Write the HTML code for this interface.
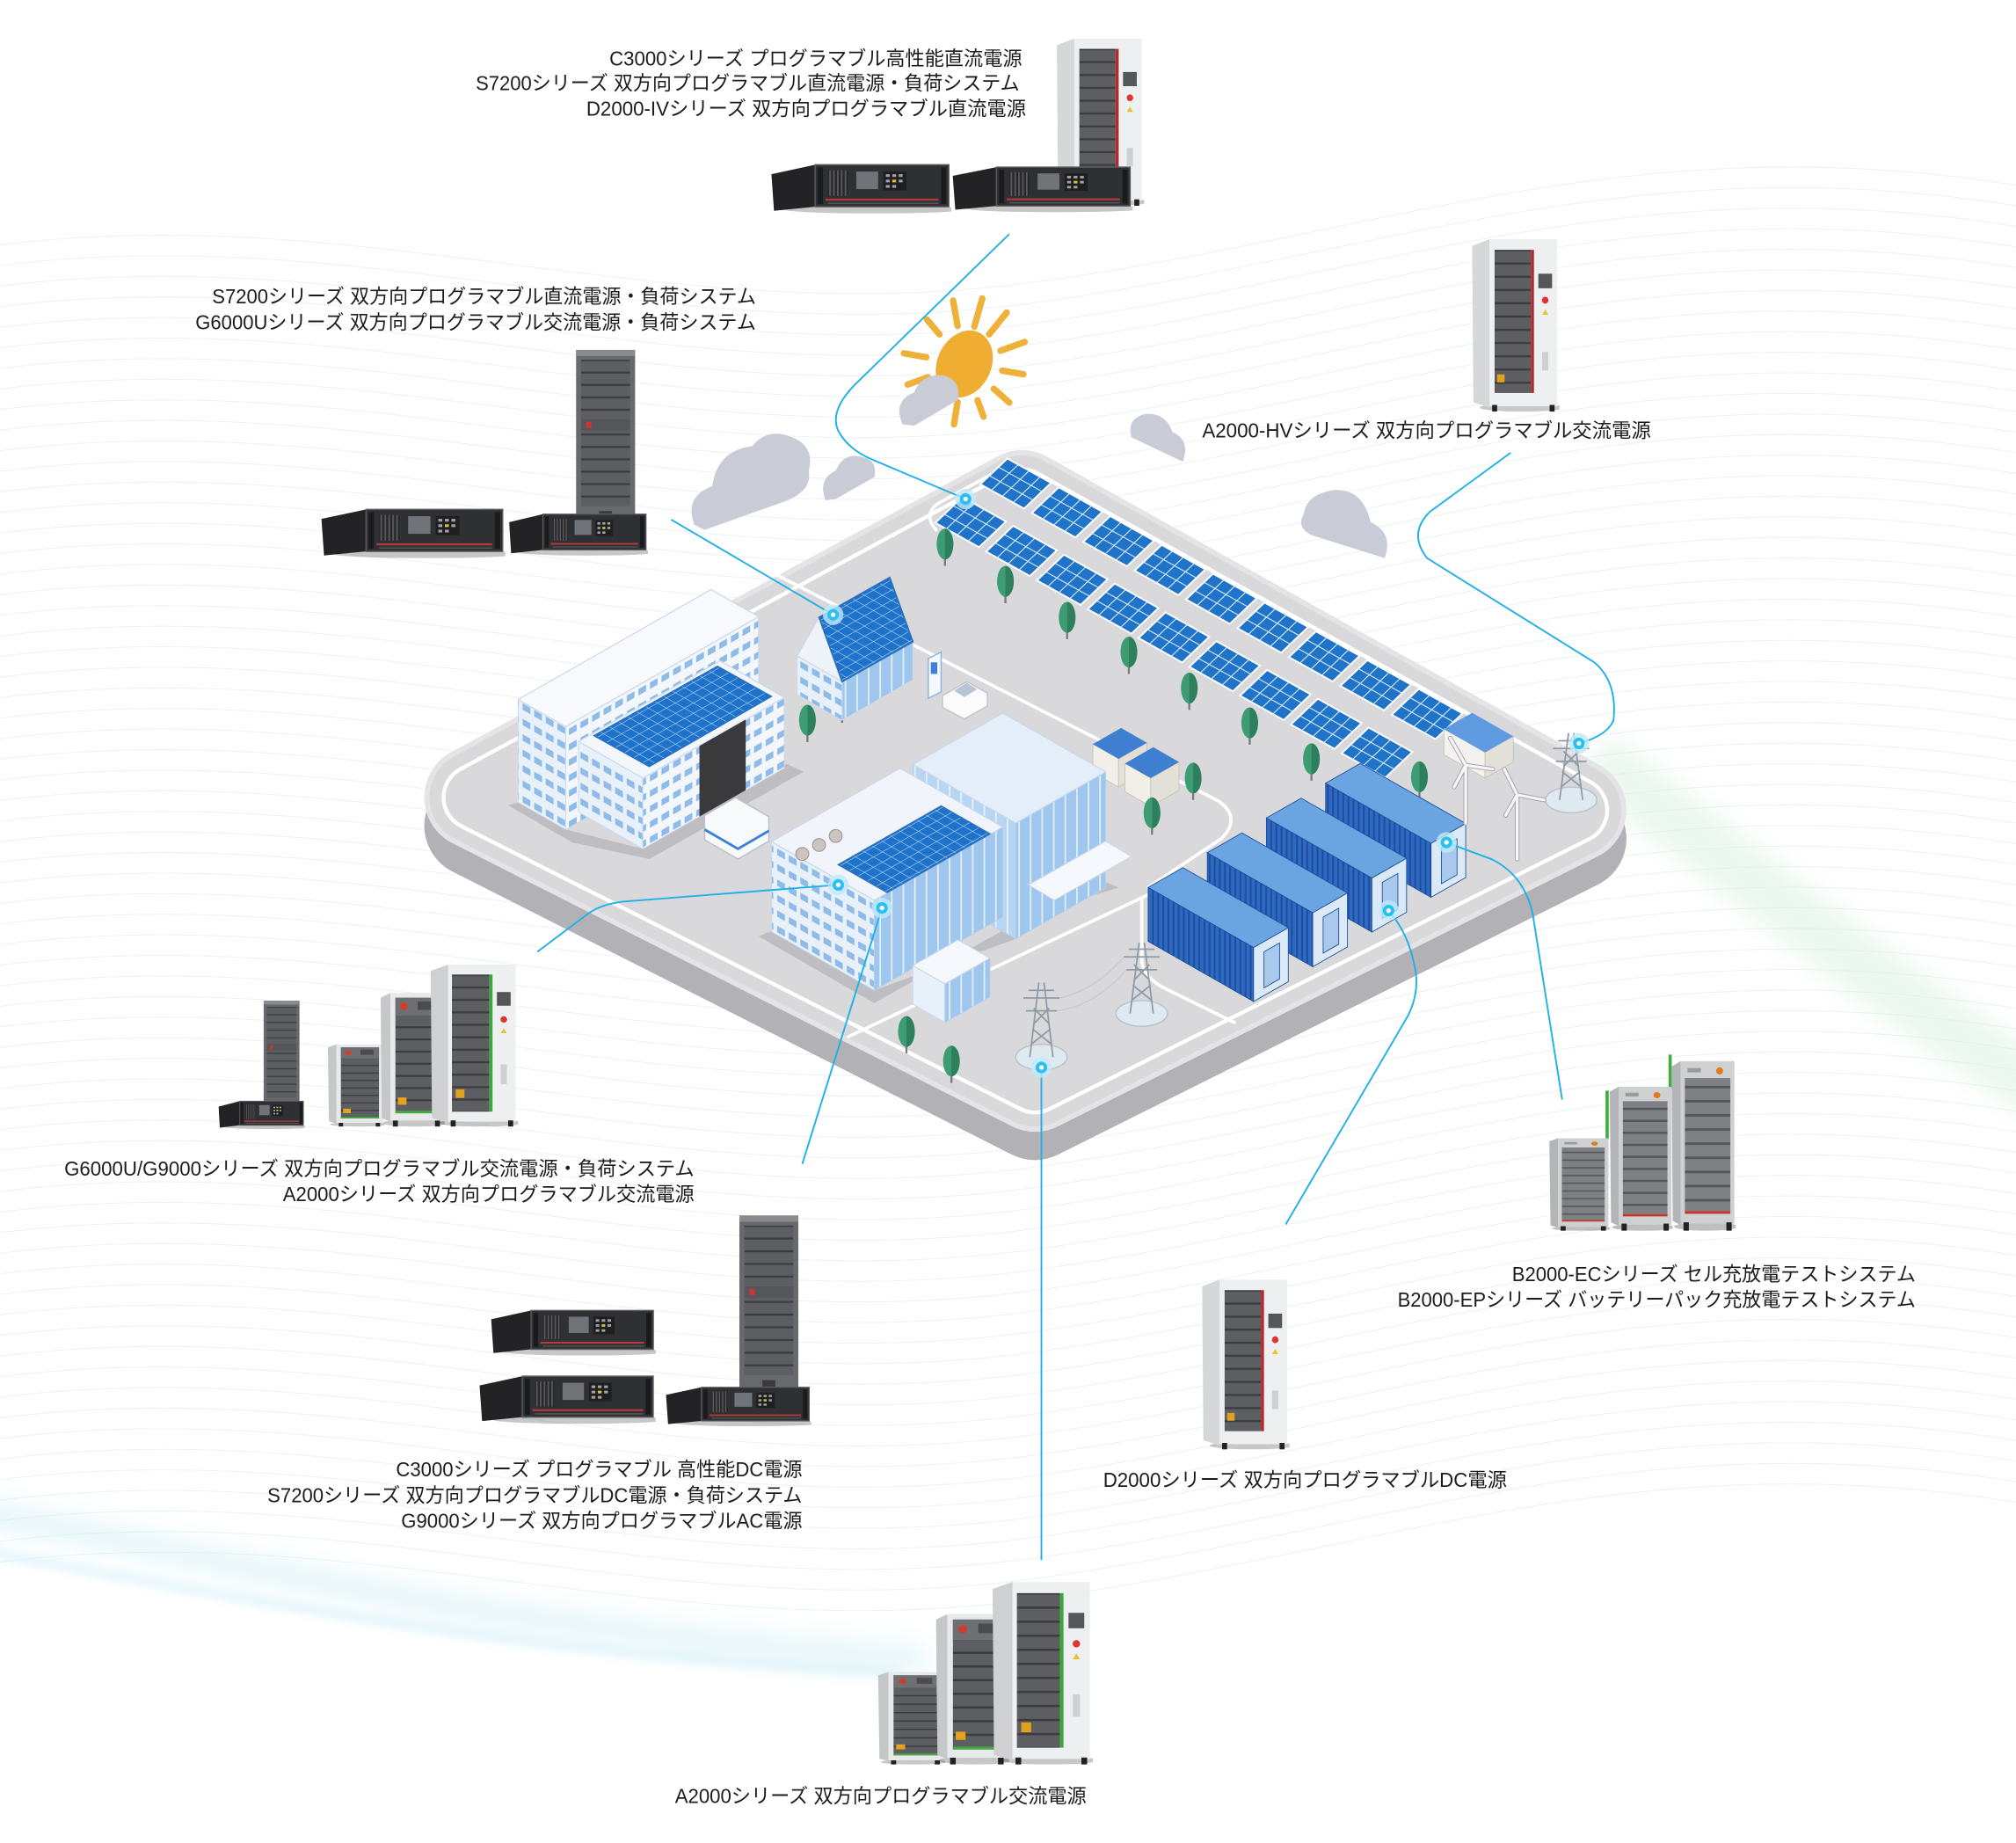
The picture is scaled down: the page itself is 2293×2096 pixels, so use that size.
<!DOCTYPE html>
<html><head><meta charset="utf-8">
<style>
html,body{margin:0;padding:0;background:#ffffff;width:2293px;height:2096px;overflow:hidden}
svg{display:block}
text{font-size:15.5px;fill:#1c1c1c}
</style></head>
<body>
<svg xmlns="http://www.w3.org/2000/svg" width="2293" height="2096" viewBox="0 0 1568 1433" preserveAspectRatio="none" font-family="'Liberation Sans','Noto Sans CJK JP',sans-serif">
<defs>
  <filter id="blur3" x="-50%" y="-50%" width="200%" height="200%"><feGaussianBlur stdDeviation="3"/></filter>
  <filter id="blur10" x="-50%" y="-50%" width="200%" height="200%"><feGaussianBlur stdDeviation="10"/></filter>
  <pattern id="slots" width="8" height="10" patternUnits="userSpaceOnUse"><rect width="8" height="10" fill="#5d5e61"/><rect y="7.5" width="8" height="1.6" fill="#3b3c3f"/></pattern>
  <pattern id="slotsL" width="8" height="10" patternUnits="userSpaceOnUse"><rect width="8" height="10" fill="#7f8084"/><rect y="7.5" width="8" height="1.8" fill="#55565a"/></pattern>
  <pattern id="vent" width="3" height="3" patternUnits="userSpaceOnUse"><rect width="3" height="3" fill="#28282a"/><rect width="1.2" height="3" fill="#5b5b5e"/></pattern>
  <pattern id="iso" width="7" height="7" patternUnits="userSpaceOnUse" patternTransform="matrix(1,-0.57,1,0.57,0,0)"><rect width="7" height="7" fill="#1f72c9"/><path d="M0 0H7M0 0V7" stroke="#bfe0fb" stroke-width="0.7"/></pattern>
  <pattern id="cvent" width="4" height="4" patternUnits="userSpaceOnUse" patternTransform="skewY(29.7)"><rect width="4" height="4" fill="#2f6ac2"/><rect width="1.5" height="4" fill="#1f4f9e"/></pattern>
  <pattern id="glassA" width="9" height="10" patternUnits="userSpaceOnUse" patternTransform="skewY(-29.7)"><rect width="9" height="10" fill="#9fc7ee"/><rect width="1.2" height="10" fill="#e2effb"/></pattern>
  <pattern id="glassB" width="9" height="10" patternUnits="userSpaceOnUse" patternTransform="skewY(29.7)"><rect width="9" height="10" fill="#b7d6f3"/><rect width="1.2" height="10" fill="#eaf3fc"/></pattern>
  <pattern id="winA" width="9" height="12" patternUnits="userSpaceOnUse" patternTransform="skewY(-29.7)"><rect width="9" height="12" fill="#f3f7fc"/><rect x="1.5" y="3" width="6" height="5" fill="#8fbbe8"/></pattern>
  <pattern id="winB" width="9" height="12" patternUnits="userSpaceOnUse" patternTransform="skewY(29.7)"><rect width="9" height="12" fill="#e8f0f9"/><rect x="1.5" y="3" width="6" height="5" fill="#8fbbe8"/></pattern>
  <path id="wv" d="M -60 0 C 250 -60, 500 60, 800 20 S 1300 -120, 1650 -40" fill="none" stroke="#cfe3e6" stroke-width="0.7"/>

  <g id="pnl">
    <polygon points="-27.5,0.5 -6.5,-19.5 27.5,-0.5 6.5,19.5" fill="#1f73c8" stroke="#ffffff" stroke-width="1.3"/>
    <path d="M-20.5,-6.17 L13.5,12.83 M-13.5,-12.83 L20.5,6.17 M-19,5.25 L2,-14.75 M-10.5,10 L10.5,-10 M-2,14.75 L19,-5.25" stroke="#cfe6fb" stroke-width="0.8" fill="none"/>
  </g>
  <g id="tree">
    <line x1="0" y1="6" x2="0" y2="17" stroke="#7a7a7a" stroke-width="1.6"/>
    <ellipse cx="0" cy="0" rx="6.5" ry="12" fill="#3d9c73"/>
    <path d="M0 -12 A6.5 12 0 0 1 0 12 Z" fill="#2e7f5c"/>
  </g>
  <g id="node">
    <circle r="8" fill="#bfeaf9" opacity="0.8"/>
    <circle r="4.5" fill="#2cc0f0"/>
    <circle r="1.8" fill="#ffffff"/>
  </g>

  <symbol id="rack" viewBox="0 0 140 38" preserveAspectRatio="none">
    <ellipse cx="80" cy="35" rx="70" ry="3" fill="#000" opacity=".22"/>
    <polygon points="0,9 34,2 34,33 2,36" fill="#232325"/>
    <rect x="34" y="2" width="104" height="31" fill="#2f3033" stroke="#5a5b5e" stroke-width="1"/>
    <rect x="36" y="4" width="4" height="27" fill="#1b1b1d"/>
    <rect x="132" y="4" width="4" height="27" fill="#1b1b1d"/>
    <rect x="44" y="6" width="16" height="19" fill="url(#vent)"/>
    <rect x="66" y="7" width="17" height="13" fill="#707377"/>
    <rect x="87" y="7" width="18" height="14" fill="#1f1f21"/>
    <g fill="#a3a3a3"><rect x="89" y="9" width="3" height="2"/><rect x="94" y="9" width="3" height="2"/><rect x="99" y="9" width="3" height="2"/><rect x="89" y="13" width="3" height="2"/><rect x="94" y="13" width="3" height="2" fill="#d8c030"/><rect x="99" y="13" width="3" height="2"/><rect x="89" y="17" width="3" height="2"/><rect x="94" y="17" width="3" height="2"/></g>
    <rect x="42" y="27" width="88" height="1.5" fill="#b23a3a"/>
    <rect x="44" y="30" width="86" height="1" fill="#555"/>
  </symbol>

  <symbol id="cabR" viewBox="0 0 70 130" preserveAspectRatio="none">
    <ellipse cx="40" cy="127" rx="34" ry="3" fill="#000" opacity=".22"/>
    <polygon points="0,5 14,0 14,127 1,123" fill="#d6d7d9"/>
    <rect x="14" y="0" width="54" height="126" fill="#eeeff0"/>
    <rect x="18" y="8" width="29" height="108" fill="url(#slots)"/>
    <rect x="47" y="8" width="2.5" height="108" fill="#b12a2e"/>
    <rect x="53" y="26" width="11" height="11" fill="#55565a"/>
    <circle cx="58.5" cy="46" r="2.6" fill="#d33"/>
    <polygon points="58.5,53 56,57 61,57" fill="#e8c230"/>
    <rect x="20" y="102" width="6" height="6" fill="#e0a020"/>
    <rect x="56" y="85" width="5" height="14" fill="#cfd0d2"/>
    <rect x="16" y="125" width="4" height="5" fill="#222"/><rect x="62" y="125" width="4" height="5" fill="#222"/>
  </symbol>

  <symbol id="cabG" viewBox="0 0 70 130" preserveAspectRatio="none">
    <ellipse cx="40" cy="127" rx="34" ry="3" fill="#000" opacity=".22"/>
    <polygon points="0,5 14,0 14,127 1,123" fill="#cfd0d2"/>
    <rect x="14" y="0" width="54" height="126" fill="#eeeff0"/>
    <rect x="17" y="8" width="30" height="110" fill="url(#slots)"/>
    <rect x="47" y="8" width="2.5" height="110" fill="#3fa63a"/>
    <rect x="53" y="22" width="11" height="11" fill="#55565a"/>
    <circle cx="58.5" cy="44" r="2.6" fill="#d33"/>
    <polygon points="58.5,51 56,55 61,55" fill="#e8c230"/>
    <rect x="20" y="100" width="7" height="7" fill="#e0a020"/>
    <rect x="56" y="80" width="5" height="16" fill="#cfd0d2"/>
    <rect x="16" y="125" width="4" height="5" fill="#222"/><rect x="62" y="125" width="4" height="5" fill="#222"/>
  </symbol>

  <symbol id="twr" viewBox="0 0 46 140" preserveAspectRatio="none">
    <rect x="0" y="0" width="46" height="140" fill="#68696c"/>
    <rect x="0" y="0" width="46" height="5" fill="#8a8b8e"/>
    <rect x="4" y="8" width="38" height="118" fill="url(#slots)"/>
    <rect x="4" y="56" width="38" height="9" fill="#55565a"/>
    <rect x="8" y="58" width="4" height="5" fill="#c33"/>
    <rect x="18" y="130" width="10" height="5" fill="#3a3a3c"/>
  </symbol>

  <symbol id="cabB" viewBox="0 0 48 120" preserveAspectRatio="none">
    <ellipse cx="26" cy="117" rx="24" ry="3" fill="#000" opacity=".25"/>
    <polygon points="0,4 7,0 7,116 1,113" fill="#b4b5b8"/>
    <rect x="7" y="0" width="40" height="115" fill="#cfd0d2"/>
    <rect x="10" y="12" width="34" height="94" fill="url(#slotsL)"/>
    <circle cx="36" cy="7" r="2.6" fill="#e07a1a"/>
    <rect x="12" y="5" width="10" height="3" fill="#9a9a9a"/>
    <rect x="10" y="106" width="34" height="2" fill="#c0392b"/>
    <rect x="9" y="114" width="4" height="6" fill="#222"/><rect x="41" y="114" width="4" height="6" fill="#222"/>
  </symbol>

  <symbol id="cabS" viewBox="0 0 52 110" preserveAspectRatio="none">
    <ellipse cx="28" cy="107" rx="26" ry="3" fill="#000" opacity=".22"/>
    <polygon points="0,4 8,0 8,106 1,103" fill="#c6c7c9"/>
    <rect x="8" y="0" width="43" height="105" fill="#e8e9ea"/>
    <rect x="12" y="4" width="35" height="95" fill="url(#slots)"/>
    <rect x="12" y="4" width="35" height="15" fill="#6e6f72"/>
    <circle cx="19" cy="11" r="3" fill="#d63a2a"/>
    <rect x="30" y="7" width="12" height="7" fill="#4a4b4e"/>
    <rect x="12" y="97" width="35" height="2" fill="#3fae3a"/>
    <rect x="14" y="86" width="7" height="6" fill="#e6a21f"/>
    <rect x="10" y="105" width="4" height="5" fill="#222"/><rect x="44" y="105" width="4" height="5" fill="#222"/>
  </symbol>
</defs>

<!-- background texture -->
<rect width="1568" height="1433" fill="#ffffff"/>
<g opacity="0.4">
  <use href="#wv" y="200"/><use href="#wv" y="216"/><use href="#wv" y="232"/><use href="#wv" y="248"/><use href="#wv" y="264"/><use href="#wv" y="280"/><use href="#wv" y="296"/><use href="#wv" y="312"/><use href="#wv" y="328"/><use href="#wv" y="344"/><use href="#wv" y="360"/><use href="#wv" y="376"/><use href="#wv" y="392"/><use href="#wv" y="408"/><use href="#wv" y="424"/><use href="#wv" y="440"/><use href="#wv" y="456"/><use href="#wv" y="472"/><use href="#wv" y="488"/><use href="#wv" y="504"/><use href="#wv" y="520"/><use href="#wv" y="536"/><use href="#wv" y="552"/><use href="#wv" y="568"/><use href="#wv" y="584"/><use href="#wv" y="600"/><use href="#wv" y="616"/><use href="#wv" y="632"/><use href="#wv" y="648"/><use href="#wv" y="664"/><use href="#wv" y="680"/><use href="#wv" y="696"/><use href="#wv" y="712"/><use href="#wv" y="728"/><use href="#wv" y="744"/><use href="#wv" y="760"/><use href="#wv" y="776"/><use href="#wv" y="792"/><use href="#wv" y="808"/><use href="#wv" y="824"/><use href="#wv" y="840"/><use href="#wv" y="856"/><use href="#wv" y="872"/><use href="#wv" y="888"/><use href="#wv" y="904"/><use href="#wv" y="920"/><use href="#wv" y="936"/><use href="#wv" y="952"/><use href="#wv" y="968"/><use href="#wv" y="984"/><use href="#wv" y="1000"/><use href="#wv" y="1016"/><use href="#wv" y="1032"/><use href="#wv" y="1048"/><use href="#wv" y="1064"/><use href="#wv" y="1080"/><use href="#wv" y="1096"/><use href="#wv" y="1112"/><use href="#wv" y="1128"/><use href="#wv" y="1144"/><use href="#wv" y="1160"/><use href="#wv" y="1176"/><use href="#wv" y="1192"/><use href="#wv" y="1208"/><use href="#wv" y="1224"/>
</g>
<path d="M -20 1175 C 150 1205, 360 1268, 720 1290" fill="none" stroke="#bfe8f3" stroke-width="16" opacity="0.5" filter="url(#blur10)"/>
<path d="M -20 1205 C 180 1240, 380 1285, 700 1300" fill="none" stroke="#d3f0f7" stroke-width="10" opacity="0.45" filter="url(#blur3)"/>
<path d="M 1240 590 C 1350 670, 1450 760, 1590 850" fill="none" stroke="#d4efdc" stroke-width="46" opacity="0.45" filter="url(#blur10)"/>

<!-- platform -->
<polygon points="370,642 795,412 1225,652 805,862" fill="#b2b2b6" stroke="#b2b2b6" stroke-width="80" stroke-linejoin="round"/>
<polygon points="370,620 795,390 1225,630 805,840" fill="#e4e4e6" stroke="#e4e4e6" stroke-width="80" stroke-linejoin="round"/>
<polygon points="370,620 795,390 1225,630 805,840" fill="#d9d9dc" stroke="#d9d9dc" stroke-width="72" stroke-linejoin="round"/>
<polygon points="370,620 795,390 1225,630 805,840" fill="none" stroke="#ffffff" stroke-width="53" stroke-linejoin="round"/>
<polygon points="370,620 795,390 1225,630 805,840" fill="#d9d9dc" stroke="#d9d9dc" stroke-width="47" stroke-linejoin="round"/>
<!-- roads -->
<g fill="none" stroke="#ffffff" stroke-width="2.5" stroke-linecap="round">
  <path d="M600 445 L948 623 Q966 636 950 652 L893 690"/>
  <path d="M728 412 Q716 398 734 389 L782 363"/>
  <path d="M660 806 L905 690"/>
  <path d="M888 700 L888 748 Q890 760 905 768 L960 795"/>
</g>

<!-- solar rows -->
<g>
  <use href="#pnl" x="790" y="376"/><use href="#pnl" x="830" y="398.4"/><use href="#pnl" x="870" y="420.8"/><use href="#pnl" x="910" y="443.2"/><use href="#pnl" x="950" y="465.6"/><use href="#pnl" x="990" y="488"/><use href="#pnl" x="1030" y="510.4"/><use href="#pnl" x="1070" y="532.8"/><use href="#pnl" x="1110" y="555.2"/>
  <use href="#pnl" x="755" y="406"/><use href="#pnl" x="794.5" y="428.4"/><use href="#pnl" x="834" y="450.8"/><use href="#pnl" x="873.5" y="473.2"/><use href="#pnl" x="913" y="495.6"/><use href="#pnl" x="952.5" y="518"/><use href="#pnl" x="992" y="540.4"/><use href="#pnl" x="1031.5" y="562.8"/><use href="#pnl" x="1071" y="585.2"/>
</g>

<!-- trees -->
<use href="#tree" x="735" y="423"/><use href="#tree" x="782" y="452"/><use href="#tree" x="830" y="480"/><use href="#tree" x="878" y="507"/><use href="#tree" x="925" y="535"/><use href="#tree" x="972" y="562"/><use href="#tree" x="1020" y="590"/><use href="#tree" x="1104" y="604"/><use href="#tree" x="628" y="560"/><use href="#tree" x="655" y="545"/>

<!-- house -->
<polygon points="655,530 620,510 620,540 655,560" fill="url(#winB)" stroke="#c9d8ea" stroke-width="0.6"/>
<polygon points="655,530 710,498.6 710,528.6 655,560" fill="url(#glassA)" stroke="#c9d8ea" stroke-width="0.6"/>
<polygon points="620,510 655,530 637,480" fill="#eef3fa" stroke="#c9d8ea" stroke-width="0.8"/>
<polygon points="637,480 692,449 710,499 655,530" fill="url(#iso)" stroke="#2a6fc0" stroke-width="1.2"/>
<!-- charging station & car -->
<polygon points="722,512 732,507 732,538 722,543" fill="#f4f7fb" stroke="#8fb4de" stroke-width="1"/>
<rect x="724" y="515" width="5" height="9" fill="#3b82d6"/>
<path d="M733 541 L752 530 L768 539 L768 549 L750 559 L733 550 Z" fill="#fbfbfb" stroke="#c2c4c8"/>
<path d="M742 537 L752 531 L760 536 L750 542 Z" fill="#b7c6d6"/>

<!-- transformers -->
<polygon points="870,590 850,578.6 850,600.6 870,612" fill="#f1efe8" stroke="#c8c4b8" stroke-width="0.6"/>
<polygon points="870,590 892,577.5 892,599.5 870,612" fill="#e3e0d7" stroke="#c8c4b8" stroke-width="0.6"/>
<polygon points="870,590 892,577.5 872,566 850,578.6" fill="#3f7fd1"/>
<polygon points="895,605 875,593.6 875,615.6 895,627" fill="#f1efe8" stroke="#c8c4b8" stroke-width="0.6"/>
<polygon points="895,605 917,592.5 917,614.5 895,627" fill="#e3e0d7" stroke="#c8c4b8" stroke-width="0.6"/>
<polygon points="895,605 917,592.5 897,581 875,593.6" fill="#3f7fd1"/>
<use href="#tree" x="928" y="605"/><use href="#tree" x="896" y="632"/>

<!-- big left building -->
<polygon points="395,626 445,655 505,668 625,600 612,594 500,660 440,645 403,624" fill="#bdbdc2"/>
<polygon points="440,565 403,543.9 403,623.9 440,645" fill="url(#winB)" stroke="#c9d8ea" stroke-width="0.6"/>
<polygon points="440,565 590,479.5 590,559.5 440,645" fill="url(#winA)" stroke="#c9d8ea" stroke-width="0.6"/>
<polygon points="440,565 590,479.5 553,458.4 403,543.9" fill="#f7f9fc" stroke="#c9d8ea" stroke-width="0.8"/>
<polygon points="500,605 450,576.5 450,631.5 500,660" fill="url(#winB)" stroke="#c9d8ea" stroke-width="0.6"/>
<polygon points="500,605 610,542.3 610,597.3 500,660" fill="url(#winA)" stroke="#c9d8ea" stroke-width="0.6"/>
<polygon points="500,605 610,542.3 560,513.8 450,576.5" fill="#f3f7fc" stroke="#c9d8ea" stroke-width="0.8"/>
<polygon points="505,596 600,541.5 558,518 462,572" fill="url(#iso)" stroke="#2a6fc0" stroke-width="1"/>
<polygon points="544,580 580,559.5 580,614.5 544,635" fill="#3a3a3d"/>
<path d="M548 634 L572 620 L598 635 L598 654 L574 668 L548 653 Z" fill="#f7f9fb" stroke="#b9c0c9"/>
<path d="M548 645 L574 660 L598 646" fill="none" stroke="#3b82d6" stroke-width="2"/>

<!-- central building -->
<polygon points="590,728 680,780 800,712 870,690 860,686 790,730 680,770 600,724" fill="#bdbdc2"/>
<polygon points="790,640 710,594.4 710,684.4 790,730" fill="url(#glassB)" stroke="#b7cfe8" stroke-width="0.6"/>
<polygon points="790,640 860,600.1 860,690.1 790,730" fill="url(#glassA)" stroke="#b7cfe8" stroke-width="0.6"/>
<polygon points="790,640 860,600.1 780,554.5 710,594.4" fill="#e4eef9" stroke="#c9d8ea" stroke-width="0.8"/>
<polygon points="680,700 600,654.4 600,724.4 680,770" fill="url(#winB)" stroke="#c9d8ea" stroke-width="0.6"/>
<polygon points="680,700 780,643 780,713 680,770" fill="url(#glassA)" stroke="#b7cfe8" stroke-width="0.6"/>
<polygon points="680,700 780,643 700,597.4 600,654.4" fill="#f1f5fb" stroke="#c9d8ea" stroke-width="0.8"/>
<polygon points="690,694 770,648.4 732,626.7 652,672.3" fill="url(#iso)" stroke="#2a6fc0" stroke-width="1"/>
<g fill="#cbc4c0" stroke="#a39a95" stroke-width="0.8"><circle cx="624" cy="664" r="5"/><circle cx="637" cy="657" r="5"/><circle cx="650" cy="650" r="5"/></g>
<polygon points="735,765 710,750.8 710,780.8 735,795" fill="#e8f0f9" stroke="#c9d8ea" stroke-width="0.6"/>
<polygon points="735,765 770,745 770,775 735,795" fill="url(#glassA)" stroke="#b7cfe8" stroke-width="0.6"/>
<polygon points="735,765 770,745 745,730.8 710,750.8" fill="#f5f8fc" stroke="#c9d8ea" stroke-width="0.8"/>
<polygon points="800,688 860,654 880,666 820,700" fill="#f5f8fc" stroke="#c9d8ea" stroke-width="0.8"/>

<!-- containers -->
<g stroke="#1d4f9c" stroke-width="0.6">
  <polygon points="1031,609 1113,655.7 1113,697.7 1031,651" fill="url(#cvent)"/>
  <polygon points="1113,655.7 1140,640.3 1140,682.3 1113,697.7" fill="#dce9f7"/>
  <polygon points="1031,609 1058,593.6 1140,640.3 1113,655.7" fill="#6aa5e2"/>
  <polygon points="1121.1,659.1 1133.25,652.15 1133.25,680.15 1121.1,687.1" fill="#a9c9ec"/>
  <polygon points="985,636 1067,682.7 1067,724.7 985,678" fill="url(#cvent)"/>
  <polygon points="1067,682.7 1094,667.3 1094,709.3 1067,724.7" fill="#dce9f7"/>
  <polygon points="985,636 1012,620.6 1094,667.3 1067,682.7" fill="#6aa5e2"/>
  <polygon points="1075.1,686.1 1087.25,679.15 1087.25,707.15 1075.1,714.1" fill="#a9c9ec"/>
  <polygon points="939,663 1021,709.7 1021,751.7 939,705" fill="url(#cvent)"/>
  <polygon points="1021,709.7 1048,694.3 1048,736.3 1021,751.7" fill="#dce9f7"/>
  <polygon points="939,663 966,647.6 1048,694.3 1021,709.7" fill="#6aa5e2"/>
  <polygon points="1029.1,713.1 1041.25,706.15 1041.25,734.15 1029.1,741.1" fill="#a9c9ec"/>
  <polygon points="893,690 975,736.7 975,778.7 893,732" fill="url(#cvent)"/>
  <polygon points="975,736.7 1002,721.3 1002,763.3 975,778.7" fill="#dce9f7"/>
  <polygon points="893,690 920,674.6 1002,721.3 975,736.7" fill="#6aa5e2"/>
  <polygon points="983.1,740.1 995.25,733.15 995.25,761.15 983.1,768.1" fill="#a9c9ec"/>
</g>

<!-- inverter box -->
<polygon points="1155,585 1123,566.8 1123,586.8 1155,605" fill="#f3f2ee" stroke="#c8c4b8" stroke-width="0.6"/>
<polygon points="1155,585 1177,572.5 1177,592.5 1155,605" fill="#e3e0d7" stroke="#c8c4b8" stroke-width="0.6"/>
<polygon points="1155,585 1177,572.5 1145,554.2 1123,566.8" fill="#5f9be0"/>

<!-- towers -->
<g fill="#dfe9f0" stroke="#b7c3cc" stroke-width="1"><ellipse cx="810" cy="822" rx="20" ry="10"/><ellipse cx="888" cy="788" rx="20" ry="10"/><ellipse cx="1222" cy="622" rx="20" ry="10"/></g>
<g fill="none" stroke="#8e9aa5" stroke-width="1.2">
  <path d="M801 822 L808 764 M819 822 L812 764 M802 812 L817 800 M818 812 L803 800 M804 796 L816 784 M816 796 L804 784 M796 776 L824 776 M798 786 L822 786 M800 770 L820 770"/>
  <path d="M879 788 L886 733 M897 788 L890 733 M880 778 L895 766 M896 778 L881 766 M882 762 L894 750 M894 762 L882 750 M874 744 L902 744 M876 754 L900 754 M878 738 L898 738"/>
  <path d="M1213 622 L1220 570 M1231 622 L1224 570 M1214 612 L1229 600 M1230 612 L1215 600 M1216 596 L1228 584 M1228 596 L1216 584 M1208 582 L1236 582 M1210 592 L1234 592 M1212 576 L1232 576"/>
</g>
<path d="M824 776 Q852 770 874 744 M822 786 Q852 782 876 754" fill="none" stroke="#c4c8cc" stroke-width="0.8"/>
<!-- wind turbines -->
<g fill="none" stroke-linecap="round">
  <path d="M1140 640 L1140 595 M1140 595 L1128 574 M1140 595 L1161 598 M1140 595 L1131 612 M1180 668 L1180 618 M1180 618 L1170 598 M1180 618 L1201 622 M1180 618 L1171 634" stroke="#a8a8b0" stroke-width="3.6"/>
  <path d="M1140 640 L1140 595 M1140 595 L1128 574 M1140 595 L1161 598 M1140 595 L1131 612 M1180 668 L1180 618 M1180 618 L1170 598 M1180 618 L1201 622 M1180 618 L1171 634" stroke="#f6f6f6" stroke-width="2.2"/>
</g>
<use href="#tree" x="705" y="802"/><use href="#tree" x="740" y="825"/>

<!-- sky: sun & clouds -->
<g stroke="#eeb23a" stroke-width="5" stroke-linecap="round">
  <line x1="744.8" y1="253.5" x2="741.3" y2="233.7"/>
  <line x1="757.8" y1="254" x2="764" y2="232"/>
  <line x1="769.3" y1="260" x2="783" y2="243"/>
  <line x1="778.2" y1="272.7" x2="797" y2="265.9"/>
  <line x1="779.5" y1="288.2" x2="796" y2="291"/>
  <line x1="773" y1="302.3" x2="785" y2="313"/>
  <line x1="760.3" y1="311.2" x2="765" y2="324"/>
  <line x1="744.8" y1="312.6" x2="742" y2="330"/>
  <line x1="721.8" y1="293.3" x2="706" y2="299"/>
  <line x1="720.5" y1="277.8" x2="703" y2="274.7"/>
  <line x1="730.7" y1="260" x2="721" y2="248.5"/>
</g>
<ellipse cx="750" cy="283" rx="21" ry="27" transform="rotate(25 750 283)" fill="#efae32"/>
<g fill="#c9cbd6">
  <path d="M540 408 Q532 386 554 378 Q558 350 585 347 Q597 332 616 340 Q634 347 629 366 Q632 382 610 390 L548 412 Z"/>
  <path d="M642 389 Q636 372 650 366 Q656 352 669 355 Q683 357 680 371 L650 388 Z"/>
  <path d="M702 330 Q694 312 711 305 Q717 290 734 292 Q748 296 745 311 L711 331 Z"/>
  <path d="M920 359 Q926 342 912 336 Q906 320 890 322 Q876 326 880 340 Z"/>
  <path d="M1077 434 Q1084 414 1066 406 Q1060 380 1038 381 Q1016 384 1014 400 Q1008 410 1020 416 Z"/>
</g>

<!-- connectors -->
<g fill="none" stroke="#1fb0e6" stroke-width="1.3">
  <path d="M785 182 L664 300 Q645 320 652 335 Q660 350 680 358 L751 388"/>
  <path d="M522 404 L648 478"/>
  <path d="M1175 352 L1112 398 Q1095 415 1110 434 L1240 515 Q1258 530 1255 560 Q1250 572 1228 578"/>
  <path d="M418 740 L458 710 Q468 703 485 701 L652 688"/>
  <path d="M624 905 L686 706"/>
  <path d="M810 1213 L810 830"/>
  <path d="M1000 952 L1095 790 Q1105 770 1100 750 Q1095 725 1080 708"/>
  <path d="M1215 855 L1192 710 Q1185 680 1160 668 L1125 655"/>
</g>
<use href="#node" x="751" y="388"/><use href="#node" x="648" y="478"/><use href="#node" x="1228" y="578"/><use href="#node" x="652" y="688"/><use href="#node" x="686" y="706"/><use href="#node" x="810" y="830"/><use href="#node" x="1080" y="708"/><use href="#node" x="1125" y="655"/>

<!-- devices -->
<use href="#cabR" x="822" y="30" width="68" height="130"/>
<use href="#rack" x="600" y="126" width="140" height="40"/>
<use href="#rack" x="741" y="128" width="140" height="37"/>
<use href="#twr" x="448" y="272" width="46" height="135"/>
<use href="#rack" x="250" y="394" width="143" height="40"/>
<use href="#rack" x="396" y="398" width="108" height="34"/>
<use href="#cabR" x="1145" y="186" width="68" height="134"/>
<use href="#twr" x="205" y="778" width="28" height="84"/>
<use href="#rack" x="170" y="855" width="67" height="23"/>
<use href="#cabS" x="255" y="812" width="44" height="64"/>
<use href="#cabS" x="296" y="772" width="50" height="104"/>
<use href="#cabG" x="335" y="750" width="68" height="126"/>
<use href="#rack" x="382" y="1017" width="128" height="37"/>
<use href="#twr" x="575" y="945" width="46" height="138"/>
<use href="#rack" x="373" y="1068" width="137" height="39"/>
<use href="#rack" x="518" y="1077" width="113" height="32"/>
<path d="M1250 848 L1250 886 M1299 820 L1299 846" stroke="#3fae3a" stroke-width="2.5"/>
<use href="#cabB" x="1205" y="885" width="47" height="72"/>
<use href="#cabB" x="1252" y="845" width="49" height="112"/>
<use href="#cabB" x="1300" y="825" width="50" height="132"/>
<use href="#cabR" x="935" y="995" width="68" height="132"/>
<use href="#cabS" x="683" y="1300" width="52" height="72"/>
<use href="#cabS" x="728" y="1255" width="57" height="117"/>
<use href="#cabG" x="772" y="1230" width="78" height="142"/>

<!-- labels -->
<text x="474" y="51" textLength="321" lengthAdjust="spacingAndGlyphs">C3000シリーズ プログラマブル高性能直流電源</text>
<text x="370" y="70" textLength="423" lengthAdjust="spacingAndGlyphs">S7200シリーズ 双方向プログラマブル直流電源・負荷システム</text>
<text x="456" y="90" textLength="342" lengthAdjust="spacingAndGlyphs">D2000-IVシリーズ 双方向プログラマブル直流電源</text>
<text x="165" y="236" textLength="423" lengthAdjust="spacingAndGlyphs">S7200シリーズ 双方向プログラマブル直流電源・負荷システム</text>
<text x="152" y="256" textLength="436" lengthAdjust="spacingAndGlyphs">G6000Uシリーズ 双方向プログラマブル交流電源・負荷システム</text>
<text x="935" y="340" textLength="349" lengthAdjust="spacingAndGlyphs">A2000-HVシリーズ 双方向プログラマブル交流電源</text>
<text x="50" y="914" textLength="490" lengthAdjust="spacingAndGlyphs">G6000U/G9000シリーズ 双方向プログラマブル交流電源・負荷システム</text>
<text x="220" y="934" textLength="320" lengthAdjust="spacingAndGlyphs">A2000シリーズ 双方向プログラマブル交流電源</text>
<text x="308" y="1148" textLength="316" lengthAdjust="spacingAndGlyphs">C3000シリーズ プログラマブル 高性能DC電源</text>
<text x="208" y="1168" textLength="416" lengthAdjust="spacingAndGlyphs">S7200シリーズ 双方向プログラマブルDC電源・負荷システム</text>
<text x="312" y="1188" textLength="312" lengthAdjust="spacingAndGlyphs">G9000シリーズ 双方向プログラマブルAC電源</text>
<text x="1176" y="996" textLength="314" lengthAdjust="spacingAndGlyphs">B2000-ECシリーズ セル充放電テストシステム</text>
<text x="1087" y="1016" textLength="403" lengthAdjust="spacingAndGlyphs">B2000-EPシリーズ バッテリーパック充放電テストシステム</text>
<text x="858" y="1156" textLength="314" lengthAdjust="spacingAndGlyphs">D2000シリーズ 双方向プログラマブルDC電源</text>
<text x="525" y="1402" textLength="320" lengthAdjust="spacingAndGlyphs">A2000シリーズ 双方向プログラマブル交流電源</text>
</svg>
</body></html>
